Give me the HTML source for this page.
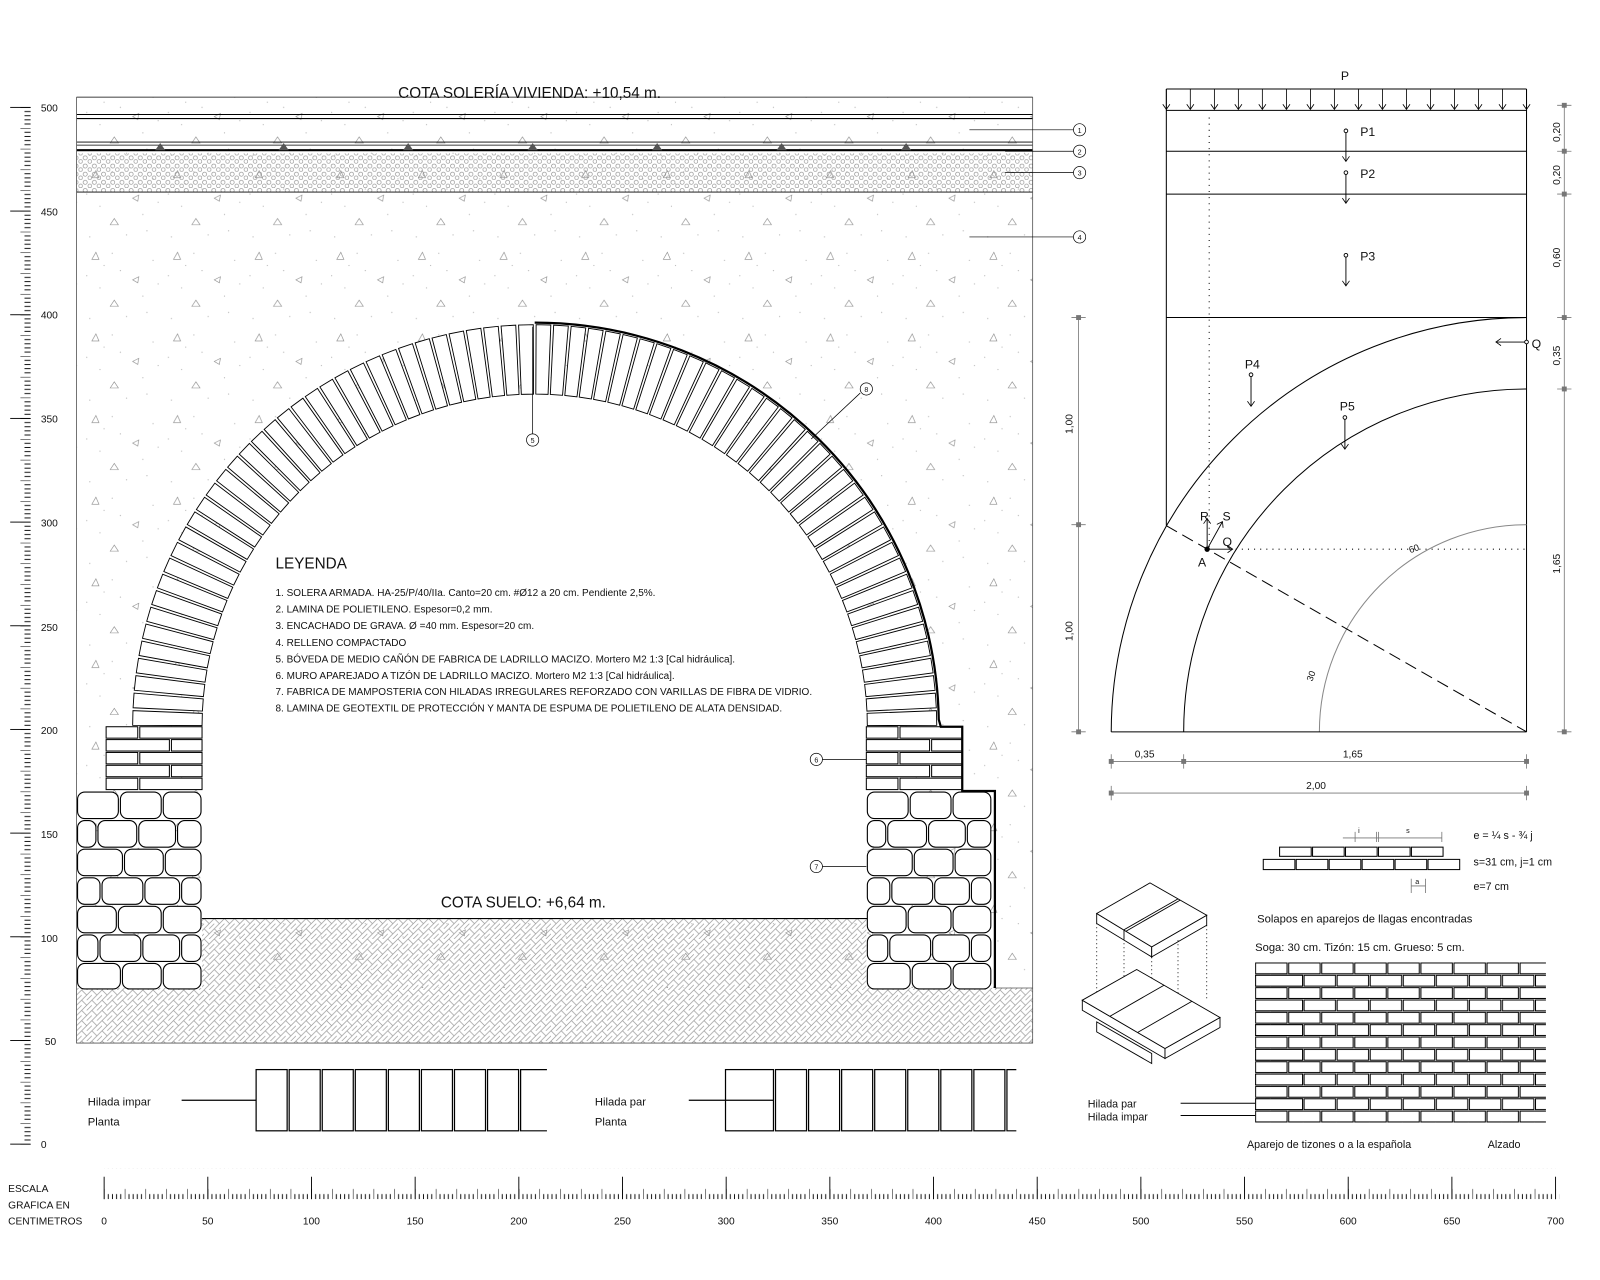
<!DOCTYPE html>
<html><head><meta charset="utf-8">
<style>
html,body{margin:0;padding:0;background:#fff;}
svg{display:block;}
text{font-family:"Liberation Sans",sans-serif;fill:#111;}
</style></head>
<body>
<svg width="1600" height="1280" viewBox="0 0 1568 1254" xmlns="http://www.w3.org/2000/svg" xmlns:xlink="http://www.w3.org/1999/xlink">
<defs>
<pattern id="stip" width="80" height="80" patternUnits="userSpaceOnUse">
 <g fill="none" stroke="#888" stroke-width="0.6">
  <path d="M10 14 l4 -7 l3 7z"/><path d="M50 34 l6 -3 l-1 6z"/><path d="M28 60 l4 -6 l4 6z"/>
 </g>
 <g fill="#bbb">
  <circle cx="5" cy="30" r="0.6"/><circle cx="30" cy="8" r="0.6"/><circle cx="70" cy="15" r="0.6"/><circle cx="44" cy="70" r="0.6"/>
  <circle cx="18" cy="42" r="0.6"/><circle cx="60" cy="50" r="0.6"/><circle cx="8" cy="72" r="0.6"/><circle cx="38" cy="25" r="0.6"/>
  <circle cx="75" cy="38" r="0.6"/><circle cx="22" cy="20" r="0.6"/><circle cx="64" cy="66" r="0.6"/>
 </g>
</pattern>
<pattern id="grav" width="9" height="8" patternUnits="userSpaceOnUse">
 <circle cx="2.5" cy="2.5" r="2" fill="none" stroke="#888" stroke-width="0.6"/>
 <circle cx="7" cy="6" r="1.8" fill="none" stroke="#888" stroke-width="0.6"/>
</pattern>
<pattern id="hatch" width="10" height="10" patternUnits="userSpaceOnUse">
 <g stroke="#999" stroke-width="0.7">
  <path d="M0 10 L10 0 M-2 2 L2 -2 M8 12 L12 8"/>
  <path d="M0 0 L5 5 M5 10 L10 5"/>
 </g>
</pattern>
<pattern id="lt" x="0" y="1121" width="40" height="20.32" patternUnits="userSpaceOnUse">
 <rect x="20" y="-0.4" width="10" height="0.9" fill="#000"/>
 <rect x="24" y="3.66" width="6" height="0.9" fill="#000"/>
 <rect x="24" y="7.73" width="6" height="0.9" fill="#000"/>
 <rect x="24" y="11.79" width="6" height="0.9" fill="#000"/>
 <rect x="24" y="15.86" width="6" height="0.9" fill="#000"/>
</pattern>
<pattern id="bt" x="102" y="1145" width="20.32" height="30" patternUnits="userSpaceOnUse">
 <rect x="-0.4" y="20" width="0.9" height="10" fill="#000"/>
 <rect x="3.66" y="25" width="0.9" height="5" fill="#000"/>
 <rect x="7.73" y="25" width="0.9" height="5" fill="#000"/>
 <rect x="11.79" y="25" width="0.9" height="5" fill="#000"/>
 <rect x="15.86" y="25" width="0.9" height="5" fill="#000"/>
</pattern>
<pattern id="wallp" x="1230" y="943" width="64.8" height="24.2" patternUnits="userSpaceOnUse">
 <g fill="#fff" stroke="#000" stroke-width="1">
  <rect x="0.5" y="0.5" width="30.8" height="10.6"/><rect x="32.9" y="0.5" width="30.8" height="10.6"/>
  <rect x="-16.8" y="12.6" width="30.8" height="10.6"/><rect x="15.6" y="12.6" width="30.8" height="10.6"/><rect x="48" y="12.6" width="30.8" height="10.6"/>
 </g>
</pattern>
<marker id="ar" markerWidth="8" markerHeight="8" refX="7" refY="4" orient="auto" markerUnits="userSpaceOnUse">
 <path d="M2 0.5 L7 4 L2 7.5" fill="none" stroke="#000" stroke-width="0.8"/>
</marker>
<path id="vb" d="M198 710.9 L130 710.6 L130.3 696.2 L198.3 698.9Z" fill="#fff" stroke="#000" stroke-width="0.9"/>
<g id="pierb" fill="#fff" stroke="#000" stroke-width="1">
 <rect x="104" y="712" width="31" height="11.2"/><rect x="137" y="712" width="61" height="11.2"/>
 <rect x="104" y="724.6" width="62" height="11.2"/><rect x="168" y="724.6" width="30" height="11.2"/>
 <rect x="104" y="737.2" width="31" height="11.2"/><rect x="137" y="737.2" width="61" height="11.2"/>
 <rect x="104" y="749.8" width="62" height="11.2"/><rect x="168" y="749.8" width="30" height="11.2"/>
 <rect x="104" y="762.4" width="31" height="11.2"/><rect x="137" y="762.4" width="61" height="11.2"/>
</g>
<g id="stones" fill="#fff" stroke="#000" stroke-width="1.1">
 <rect x="76" y="776" width="40" height="26" rx="7"/><rect x="118" y="776" width="40" height="26" rx="7"/><rect x="160" y="776" width="37" height="26" rx="7"/>
 <rect x="76" y="804" width="18" height="26" rx="7"/><rect x="96" y="804" width="38" height="26" rx="7"/><rect x="136" y="804" width="36" height="26" rx="7"/><rect x="174" y="804" width="23" height="26" rx="7"/>
 <rect x="76" y="832" width="44" height="26" rx="7"/><rect x="122" y="832" width="38" height="26" rx="7"/><rect x="162" y="832" width="35" height="26" rx="7"/>
 <rect x="76" y="860" width="22" height="26" rx="7"/><rect x="100" y="860" width="40" height="26" rx="7"/><rect x="142" y="860" width="34" height="26" rx="7"/><rect x="178" y="860" width="19" height="26" rx="7"/>
 <rect x="76" y="888" width="38" height="26" rx="7"/><rect x="116" y="888" width="42" height="26" rx="7"/><rect x="160" y="888" width="37" height="26" rx="7"/>
 <rect x="76" y="916" width="20" height="26" rx="7"/><rect x="98" y="916" width="40" height="26" rx="7"/><rect x="140" y="916" width="36" height="26" rx="7"/><rect x="178" y="916" width="19" height="26" rx="7"/>
 <rect x="76" y="944" width="42" height="25" rx="7"/><rect x="120" y="944" width="38" height="25" rx="7"/><rect x="160" y="944" width="37" height="25" rx="7"/>
</g>
</defs>

<!-- main section -->
<rect x="75" y="95" width="937" height="927" fill="url(#stip)"/>
<rect x="75" y="150" width="937" height="38" fill="url(#grav)"/>
<rect x="198" y="900" width="651" height="122" fill="url(#hatch)"/>
<rect x="75" y="968" width="937" height="54" fill="#fff"/>
<rect x="75" y="968" width="937" height="54" fill="url(#hatch)"/>
<g stroke="#000" fill="none">
 <path d="M75 95 L1012 95" stroke-width="0.8"/>
 <path d="M75 112 L1012 112 M75 116 L1012 116" stroke-width="1"/>
 <path d="M75 139 L1012 139 M75 142 L1012 142" stroke-width="0.8"/>
 <path d="M75 147 L1012 147" stroke-width="2"/>
 <path d="M75 188 L1012 188" stroke-width="0.9"/>
 <path d="M975 968 L1012 968" stroke-width="0.7" stroke="#555"/>
 <path d="M75 95 L75 1022 L1012 1022 L1012 95" stroke-width="0.8" stroke="#555"/>
</g>
<g fill="#555"><path d="M152 147 l5 -7 l5 7z"/><path d="M273 147 l5 -7 l5 7z"/><path d="M395 147 l5 -7 l5 7z"/><path d="M517 147 l5 -7 l5 7z"/><path d="M639 147 l5 -7 l5 7z"/><path d="M761 147 l5 -7 l5 7z"/><path d="M883 147 l5 -7 l5 7z"/></g>

<!-- interior -->
<path d="M198 712 A326 326 0 0 1 850 712 L850 900 L198 900 Z" fill="#fff"/>
<path d="M198 900 L850 900" stroke="#000" stroke-width="1"/>

<!-- arch voussoirs -->
<g>
<use xlink:href="#vb"/>
<use xlink:href="#vb" transform="rotate(2.5 524 712)"/><use xlink:href="#vb" transform="rotate(5 524 712)"/><use xlink:href="#vb" transform="rotate(7.5 524 712)"/><use xlink:href="#vb" transform="rotate(10 524 712)"/>
<use xlink:href="#vb" transform="rotate(12.5 524 712)"/><use xlink:href="#vb" transform="rotate(15 524 712)"/><use xlink:href="#vb" transform="rotate(17.5 524 712)"/><use xlink:href="#vb" transform="rotate(20 524 712)"/>
<use xlink:href="#vb" transform="rotate(22.5 524 712)"/><use xlink:href="#vb" transform="rotate(25 524 712)"/><use xlink:href="#vb" transform="rotate(27.5 524 712)"/><use xlink:href="#vb" transform="rotate(30 524 712)"/>
<use xlink:href="#vb" transform="rotate(32.5 524 712)"/><use xlink:href="#vb" transform="rotate(35 524 712)"/><use xlink:href="#vb" transform="rotate(37.5 524 712)"/><use xlink:href="#vb" transform="rotate(40 524 712)"/>
<use xlink:href="#vb" transform="rotate(42.5 524 712)"/><use xlink:href="#vb" transform="rotate(45 524 712)"/><use xlink:href="#vb" transform="rotate(47.5 524 712)"/><use xlink:href="#vb" transform="rotate(50 524 712)"/>
<use xlink:href="#vb" transform="rotate(52.5 524 712)"/><use xlink:href="#vb" transform="rotate(55 524 712)"/><use xlink:href="#vb" transform="rotate(57.5 524 712)"/><use xlink:href="#vb" transform="rotate(60 524 712)"/>
<use xlink:href="#vb" transform="rotate(62.5 524 712)"/><use xlink:href="#vb" transform="rotate(65 524 712)"/><use xlink:href="#vb" transform="rotate(67.5 524 712)"/><use xlink:href="#vb" transform="rotate(70 524 712)"/>
<use xlink:href="#vb" transform="rotate(72.5 524 712)"/><use xlink:href="#vb" transform="rotate(75 524 712)"/><use xlink:href="#vb" transform="rotate(77.5 524 712)"/><use xlink:href="#vb" transform="rotate(80 524 712)"/>
<use xlink:href="#vb" transform="rotate(82.5 524 712)"/><use xlink:href="#vb" transform="rotate(85 524 712)"/><use xlink:href="#vb" transform="rotate(87.5 524 712)"/><use xlink:href="#vb" transform="rotate(90 524 712)"/>
<use xlink:href="#vb" transform="rotate(92.5 524 712)"/><use xlink:href="#vb" transform="rotate(95 524 712)"/><use xlink:href="#vb" transform="rotate(97.5 524 712)"/><use xlink:href="#vb" transform="rotate(100 524 712)"/>
<use xlink:href="#vb" transform="rotate(102.5 524 712)"/><use xlink:href="#vb" transform="rotate(105 524 712)"/><use xlink:href="#vb" transform="rotate(107.5 524 712)"/><use xlink:href="#vb" transform="rotate(110 524 712)"/>
<use xlink:href="#vb" transform="rotate(112.5 524 712)"/><use xlink:href="#vb" transform="rotate(115 524 712)"/><use xlink:href="#vb" transform="rotate(117.5 524 712)"/><use xlink:href="#vb" transform="rotate(120 524 712)"/>
<use xlink:href="#vb" transform="rotate(122.5 524 712)"/><use xlink:href="#vb" transform="rotate(125 524 712)"/><use xlink:href="#vb" transform="rotate(127.5 524 712)"/><use xlink:href="#vb" transform="rotate(130 524 712)"/>
<use xlink:href="#vb" transform="rotate(132.5 524 712)"/><use xlink:href="#vb" transform="rotate(135 524 712)"/><use xlink:href="#vb" transform="rotate(137.5 524 712)"/><use xlink:href="#vb" transform="rotate(140 524 712)"/>
<use xlink:href="#vb" transform="rotate(142.5 524 712)"/><use xlink:href="#vb" transform="rotate(145 524 712)"/><use xlink:href="#vb" transform="rotate(147.5 524 712)"/><use xlink:href="#vb" transform="rotate(150 524 712)"/>
<use xlink:href="#vb" transform="rotate(152.5 524 712)"/><use xlink:href="#vb" transform="rotate(155 524 712)"/><use xlink:href="#vb" transform="rotate(157.5 524 712)"/><use xlink:href="#vb" transform="rotate(160 524 712)"/>
<use xlink:href="#vb" transform="rotate(162.5 524 712)"/><use xlink:href="#vb" transform="rotate(165 524 712)"/><use xlink:href="#vb" transform="rotate(167.5 524 712)"/><use xlink:href="#vb" transform="rotate(170 524 712)"/>
<use xlink:href="#vb" transform="rotate(172.5 524 712)"/><use xlink:href="#vb" transform="rotate(175 524 712)"/><use xlink:href="#vb" transform="rotate(177.5 524 712)"/>
</g>
<!-- piers -->
<use xlink:href="#pierb"/>
<use xlink:href="#pierb" transform="translate(745 0)"/>
<use xlink:href="#stones"/>
<use xlink:href="#stones" transform="translate(774 0)"/>
<!-- membrane -->
<path d="M524 316 A396 396 0 0 1 920 705 L922 712 L943 712 L943 775 L975 775 L975 968" fill="none" stroke="#000" stroke-width="2.2"/>

<!-- labels -->
<text x="519" y="96" font-size="15" text-anchor="middle">COTA SOLERÍA VIVIENDA: +10,54 m.</text>
<text x="432" y="889" font-size="15">COTA SUELO:   +6,64 m.</text>
<text x="270" y="557" font-size="15">LEYENDA</text>
<g font-size="9.8">
<text x="270" y="584">1. SOLERA ARMADA. HA-25/P/40/IIa. Canto=20 cm. #Ø12 a 20 cm. Pendiente 2,5%.</text>
<text x="270" y="600">2. LAMINA DE POLIETILENO. Espesor=0,2 mm.</text>
<text x="270" y="616">3. ENCACHADO DE GRAVA. Ø =40 mm. Espesor=20 cm.</text>
<text x="270" y="633">4. RELLENO COMPACTADO</text>
<text x="270" y="649">5. BÓVEDA DE MEDIO CAÑÓN DE FABRICA DE LADRILLO MACIZO. Mortero M2 1:3 [Cal hidráulica].</text>
<text x="270" y="665">6. MURO APAREJADO A TIZÓN DE LADRILLO MACIZO. Mortero M2 1:3 [Cal hidráulica].</text>
<text x="270" y="681">7. FABRICA DE MAMPOSTERIA CON HILADAS IRREGULARES REFORZADO CON VARILLAS DE FIBRA DE VIDRIO.</text>
<text x="270" y="697">8. LAMINA DE GEOTEXTIL DE PROTECCIÓN Y MANTA DE ESPUMA DE POLIETILENO DE ALATA DENSIDAD.</text>
</g>
<g stroke="#000" stroke-width="0.7" fill="#fff">
 <path d="M950 127 L1052 127 M985 148 L1052 148 M985 169 L1052 169 M950 232 L1052 232 M522 320 L522 425 M795 430 L843 385 M806 744 L849 744 M806 849 L849 849" fill="none"/>
 <circle cx="1058" cy="127" r="6"/><circle cx="1058" cy="148" r="6"/><circle cx="1058" cy="169" r="6"/><circle cx="1058" cy="232" r="6"/>
 <circle cx="522" cy="431" r="6"/><circle cx="849" cy="381" r="6"/><circle cx="800" cy="744" r="6"/><circle cx="800" cy="849" r="6"/>
</g>
<g font-size="7" text-anchor="middle">
<text x="1058" y="130">1</text><text x="1058" y="151">2</text><text x="1058" y="172">3</text><text x="1058" y="235">4</text>
<text x="522" y="434">5</text><text x="849" y="384">8</text><text x="800" y="747">6</text><text x="800" y="852">7</text>
</g>

<!-- left scale -->
<rect x="0" y="102" width="32" height="1021" fill="url(#lt)"/>
<g fill="#000"><rect x="10" y="104.6" width="20" height="0.9"/><rect x="10" y="206.2" width="20" height="0.9"/><rect x="10" y="307.8" width="20" height="0.9"/><rect x="10" y="409.4" width="20" height="0.9"/><rect x="10" y="511" width="20" height="0.9"/><rect x="10" y="612.6" width="20" height="0.9"/><rect x="10" y="714.2" width="20" height="0.9"/><rect x="10" y="815.8" width="20" height="0.9"/><rect x="10" y="917.4" width="20" height="0.9"/><rect x="10" y="1019" width="20" height="0.9"/><rect x="10" y="1120.6" width="20" height="0.9"/></g>
<g font-size="10" fill="#333">
<text x="40" y="109">500</text><text x="40" y="211">450</text><text x="40" y="312">400</text><text x="40" y="414">350</text><text x="40" y="516">300</text><text x="40" y="618">250</text><text x="40" y="719">200</text><text x="40" y="821">150</text><text x="40" y="923">100</text><text x="44" y="1024">50</text><text x="40" y="1125">0</text>
</g>
<!-- bottom scale -->
<rect x="100" y="1145" width="1428" height="30" fill="url(#bt)"/>
<g fill="#000"><rect x="101.6" y="1153" width="0.9" height="22"/><rect x="203.2" y="1153" width="0.9" height="22"/><rect x="304.8" y="1153" width="0.9" height="22"/><rect x="406.4" y="1153" width="0.9" height="22"/><rect x="508" y="1153" width="0.9" height="22"/><rect x="609.6" y="1153" width="0.9" height="22"/><rect x="711.2" y="1153" width="0.9" height="22"/><rect x="812.8" y="1153" width="0.9" height="22"/><rect x="914.4" y="1153" width="0.9" height="22"/><rect x="1016" y="1153" width="0.9" height="22"/><rect x="1117.6" y="1153" width="0.9" height="22"/><rect x="1219.2" y="1153" width="0.9" height="22"/><rect x="1320.8" y="1153" width="0.9" height="22"/><rect x="1422.4" y="1153" width="0.9" height="22"/><rect x="1524" y="1153" width="0.9" height="22"/></g>
<g font-size="10" fill="#333" text-anchor="middle">
<text x="102" y="1200">0</text><text x="203.6" y="1200">50</text><text x="305.2" y="1200">100</text><text x="406.8" y="1200">150</text><text x="508.4" y="1200">200</text><text x="610" y="1200">250</text><text x="711.6" y="1200">300</text><text x="813.2" y="1200">350</text><text x="914.8" y="1200">400</text><text x="1016.4" y="1200">450</text><text x="1118" y="1200">500</text><text x="1219.6" y="1200">550</text><text x="1321.2" y="1200">600</text><text x="1422.8" y="1200">650</text><text x="1524.4" y="1200">700</text>
</g>
<g font-size="10"><text x="8" y="1168">ESCALA</text><text x="8" y="1184">GRAFICA EN</text><text x="8" y="1200">CENTIMETROS</text></g>

<!-- plans -->
<g stroke="#000" stroke-width="1.2" fill="none">
 <path d="M178 1078 L251 1078"/>
 <rect x="251" y="1048" width="30.4" height="60"/><rect x="283.4" y="1048" width="30.4" height="60"/><rect x="315.8" y="1048" width="30.4" height="60"/><rect x="348.2" y="1048" width="30.4" height="60"/><rect x="380.6" y="1048" width="30.4" height="60"/><rect x="413" y="1048" width="30.4" height="60"/><rect x="445.4" y="1048" width="30.4" height="60"/><rect x="477.8" y="1048" width="30.4" height="60"/>
 <path d="M536 1048 L510.2 1048 L510.2 1108 L536 1108"/>
 <path d="M675 1078 L758 1078"/>
 <rect x="711" y="1048" width="47" height="60"/>
 <rect x="760" y="1048" width="30.4" height="60"/><rect x="792.4" y="1048" width="30.4" height="60"/><rect x="824.8" y="1048" width="30.4" height="60"/><rect x="857.2" y="1048" width="30.4" height="60"/><rect x="889.6" y="1048" width="30.4" height="60"/><rect x="922" y="1048" width="30.4" height="60"/><rect x="954.4" y="1048" width="30.4" height="60"/>
 <path d="M996 1048 L986.8 1048 L986.8 1108 L996 1108"/>
</g>
<g font-size="11"><text x="86" y="1083">Hilada impar</text><text x="86" y="1103">Planta</text><text x="583" y="1083">Hilada par</text><text x="583" y="1103">Planta</text></g>

<!-- right diagram -->
<g stroke="#000" stroke-width="1" fill="none">
 <path d="M1143 87 L1496 87 M1143 108 L1496 108 M1143 148 L1496 148 M1143 190 L1496 190 M1143 311 L1496 311"/>
 <path d="M1143 87 L1143 515 M1496 87 L1496 717"/>
 <path d="M1089 717 A407 407 0 0 1 1496 311"/>
 <path d="M1160 717 A336 336 0 0 1 1496 381"/>
 <path d="M1293 717 A203 203 0 0 1 1496 514" stroke="#888"/>
 <path d="M1089 717 L1496 717"/>
 <path d="M1143 515 L1496 717" stroke-dasharray="12 6"/>
 <path d="M1185 115 L1185 538" stroke-dasharray="1 5"/>
 <path d="M1205 538 L1496 538" stroke-dasharray="1 5"/>
</g>
<g stroke="#000" stroke-width="0.8">
 <line x1="1143" y1="87" x2="1143" y2="107" marker-end="url(#ar)"/><line x1="1166.5" y1="87" x2="1166.5" y2="107" marker-end="url(#ar)"/><line x1="1190.1" y1="87" x2="1190.1" y2="107" marker-end="url(#ar)"/><line x1="1213.6" y1="87" x2="1213.6" y2="107" marker-end="url(#ar)"/>
 <line x1="1237.1" y1="87" x2="1237.1" y2="107" marker-end="url(#ar)"/><line x1="1260.7" y1="87" x2="1260.7" y2="107" marker-end="url(#ar)"/><line x1="1284.2" y1="87" x2="1284.2" y2="107" marker-end="url(#ar)"/><line x1="1307.7" y1="87" x2="1307.7" y2="107" marker-end="url(#ar)"/>
 <line x1="1331.3" y1="87" x2="1331.3" y2="107" marker-end="url(#ar)"/><line x1="1354.8" y1="87" x2="1354.8" y2="107" marker-end="url(#ar)"/><line x1="1378.3" y1="87" x2="1378.3" y2="107" marker-end="url(#ar)"/><line x1="1401.9" y1="87" x2="1401.9" y2="107" marker-end="url(#ar)"/>
 <line x1="1425.4" y1="87" x2="1425.4" y2="107" marker-end="url(#ar)"/><line x1="1448.9" y1="87" x2="1448.9" y2="107" marker-end="url(#ar)"/><line x1="1472.5" y1="87" x2="1472.5" y2="107" marker-end="url(#ar)"/><line x1="1496" y1="87" x2="1496" y2="107" marker-end="url(#ar)"/>
</g>
<g stroke="#000" stroke-width="0.9" fill="#fff">
 <path d="M1319 128 L1319 158" marker-end="url(#ar)"/><circle cx="1319" cy="128" r="1.8"/>
 <path d="M1319 169 L1319 199" marker-end="url(#ar)"/><circle cx="1319" cy="169" r="1.8"/>
 <path d="M1319 250 L1319 280" marker-end="url(#ar)"/><circle cx="1319" cy="250" r="1.8"/>
 <path d="M1226 367 L1226 398" marker-end="url(#ar)"/><circle cx="1226" cy="367" r="1.8"/>
 <path d="M1318 409 L1318 440" marker-end="url(#ar)"/><circle cx="1318" cy="409" r="1.8"/>
 <path d="M1496 335 L1466 335" marker-end="url(#ar)"/><circle cx="1496" cy="335" r="1.8"/>
 <path d="M1183 538 L1183 508" marker-end="url(#ar)"/>
 <path d="M1183 538 L1198 511" marker-end="url(#ar)"/>
 <path d="M1183 538 L1208 538" marker-end="url(#ar)"/>
 <circle cx="1183" cy="538" r="2.2" fill="#000"/>
</g>
<g font-size="12">
<text x="1314" y="78">P</text><text x="1333" y="133">P1</text><text x="1333" y="174">P2</text><text x="1333" y="255">P3</text>
<text x="1220" y="361">P4</text><text x="1313" y="402">P5</text><text x="1501" y="341">Q</text>
<text x="1176" y="510">R</text><text x="1198" y="510">S</text><text x="1198" y="535">Q</text><text x="1174" y="555">A</text>
</g>
<g font-size="9" fill="#666">
<text x="1382" y="542" transform="rotate(-20 1382 542)">60</text>
<text x="1286" y="668" transform="rotate(-70 1286 668)">30</text>
</g>
<!-- dims right diagram -->
<g stroke="#777" stroke-width="0.8" fill="#777">
 <path d="M1057 311 L1057 717" fill="none"/>
 <rect x="1055" y="309" width="4" height="4"/><rect x="1055" y="512" width="4" height="4"/><rect x="1055" y="715" width="4" height="4"/>
 <path d="M1050 311 L1064 311 M1050 514 L1064 514 M1050 717 L1064 717"/>
 <path d="M1533 103 L1533 717" fill="none"/>
 <path d="M1526 103 L1540 103 M1526 148 L1540 148 M1526 190 L1540 190 M1526 311 L1540 311 M1526 381 L1540 381 M1526 717 L1540 717"/>
 <rect x="1531" y="101" width="4" height="4"/><rect x="1531" y="146" width="4" height="4"/><rect x="1531" y="188" width="4" height="4"/><rect x="1531" y="309" width="4" height="4"/><rect x="1531" y="379" width="4" height="4"/><rect x="1531" y="715" width="4" height="4"/>
 <path d="M1089 746 L1496 746 M1089 777 L1496 777" fill="none"/>
 <path d="M1089 739 L1089 753 M1160 739 L1160 753 M1496 739 L1496 753 M1089 770 L1089 784 M1496 770 L1496 784"/>
 <rect x="1087" y="744" width="4" height="4"/><rect x="1158" y="744" width="4" height="4"/><rect x="1494" y="744" width="4" height="4"/><rect x="1087" y="775" width="4" height="4"/><rect x="1494" y="775" width="4" height="4"/>
</g>
<g font-size="10" fill="#777">
<text x="1051" y="425" transform="rotate(-90 1051 425)">1,00</text>
<text x="1051" y="628" transform="rotate(-90 1051 628)">1,00</text>
<text x="1529" y="139" transform="rotate(-90 1529 139)">0,20</text>
<text x="1529" y="181" transform="rotate(-90 1529 181)">0,20</text>
<text x="1529" y="262" transform="rotate(-90 1529 262)">0,60</text>
<text x="1529" y="358" transform="rotate(-90 1529 358)">0,35</text>
<text x="1529" y="562" transform="rotate(-90 1529 562)">1,65</text>
<text x="1112" y="742">0,35</text><text x="1316" y="742">1,65</text><text x="1280" y="773">2,00</text>
</g>

<!-- bottom right wall -->
<rect x="1230" y="943" width="285" height="157.3" fill="url(#wallp)"/>
<g fill="#fff" stroke="#000" stroke-width="1">
 <rect x="1230.5" y="955.6" width="46" height="10.6"/><rect x="1230.5" y="979.8" width="46" height="10.6"/><rect x="1230.5" y="1004" width="46" height="10.6"/>
 <rect x="1230.5" y="1028.2" width="46" height="10.6"/><rect x="1230.5" y="1052.4" width="46" height="10.6"/><rect x="1230.5" y="1076.6" width="46" height="10.6"/>
 <rect x="1254" y="830" width="31" height="9"/><rect x="1286.3" y="830" width="31" height="9"/><rect x="1318.6" y="830" width="31" height="9"/><rect x="1350.9" y="830" width="31" height="9"/><rect x="1383.2" y="830" width="31" height="9"/>
 <rect x="1238" y="842" width="31" height="10"/><rect x="1270.3" y="842" width="31" height="10"/><rect x="1302.6" y="842" width="31" height="10"/><rect x="1334.9" y="842" width="31" height="10"/><rect x="1367.2" y="842" width="31" height="10"/><rect x="1399.5" y="842" width="31" height="10"/>
</g>
<g transform="scale(0.98)" stroke="#000" stroke-width="0.9" fill="#fff">
 <path d="M1096.7 913.3 L1151.7 946.7 L1151.7 956.7 L1096.7 923.3 Z"/>
 <path d="M1151.7 946.7 L1206.7 915 L1206.7 925 L1151.7 956.7 Z"/>
 <path d="M1096.7 913.3 L1150 882.7 L1206.7 915 L1151.7 946.7 Z"/>
 <path d="M1124 929.5 L1178 898.7 M1126 931 L1180 900" fill="none"/>
 <path d="M1124 929.5 L1124 939" fill="none"/>
 <path d="M1096.7 923 L1096.7 1000 M1124 939 L1124 1018 M1151.7 957 L1151.7 1030 M1178 940 L1178 1020 M1206.7 925 L1206.7 1000" fill="none" stroke-dasharray="1 3"/>
 <path d="M1096.7 1021.7 L1151.7 1053.3 L1151.7 1063.3 L1096.7 1031.7 Z"/>
 <path d="M1082.3 1000 L1165 1048.3 L1165 1058.3 L1082.3 1010 Z"/>
 <path d="M1165 1048.3 L1220 1017.3 L1220 1027.3 L1165 1058.3 Z"/>
 <path d="M1082.3 1000 L1136.7 969.3 L1220 1017.3 L1165 1048.3 Z"/>
 <path d="M1110 1016 L1164 985 M1138 1032 L1192 1001" fill="none"/>
</g>
<g font-size="10.5">
<text x="1444" y="822">e = ¼ s - ¾ j</text>
<text x="1444" y="848">s=31 cm, j=1 cm</text>
<text x="1444" y="872">e=7 cm</text>
<text x="1232" y="904" font-size="11">Solapos en aparejos de llagas encontradas</text>
<text x="1230" y="932" font-size="11">Soga: 30 cm.       Tizón: 15 cm.     Grueso: 5 cm.</text>
<text x="1066" y="1085">Hilada par</text><text x="1066" y="1098">Hilada impar</text>
<text x="1222" y="1125">Aparejo de tizones o a la española</text><text x="1458" y="1125">Alzado</text>
</g>
<g stroke="#777" stroke-width="0.8" fill="none">
 <path d="M1316 821 L1413 821 M1328 815 L1328 825 M1349 815 L1349 825 M1351 815 L1351 825 M1413 815 L1413 825 M1383 868 L1397 868 M1383 861 L1383 875 M1397 861 L1397 875"/>
</g>
<g font-size="7" fill="#777"><text x="1331" y="816">i</text><text x="1378" y="816">s</text><text x="1387" y="866">a</text></g>
<path d="M1157 1081 L1230 1081 M1157 1093 L1230 1093" stroke="#000" stroke-width="1"/>
</svg>
</body></html>
